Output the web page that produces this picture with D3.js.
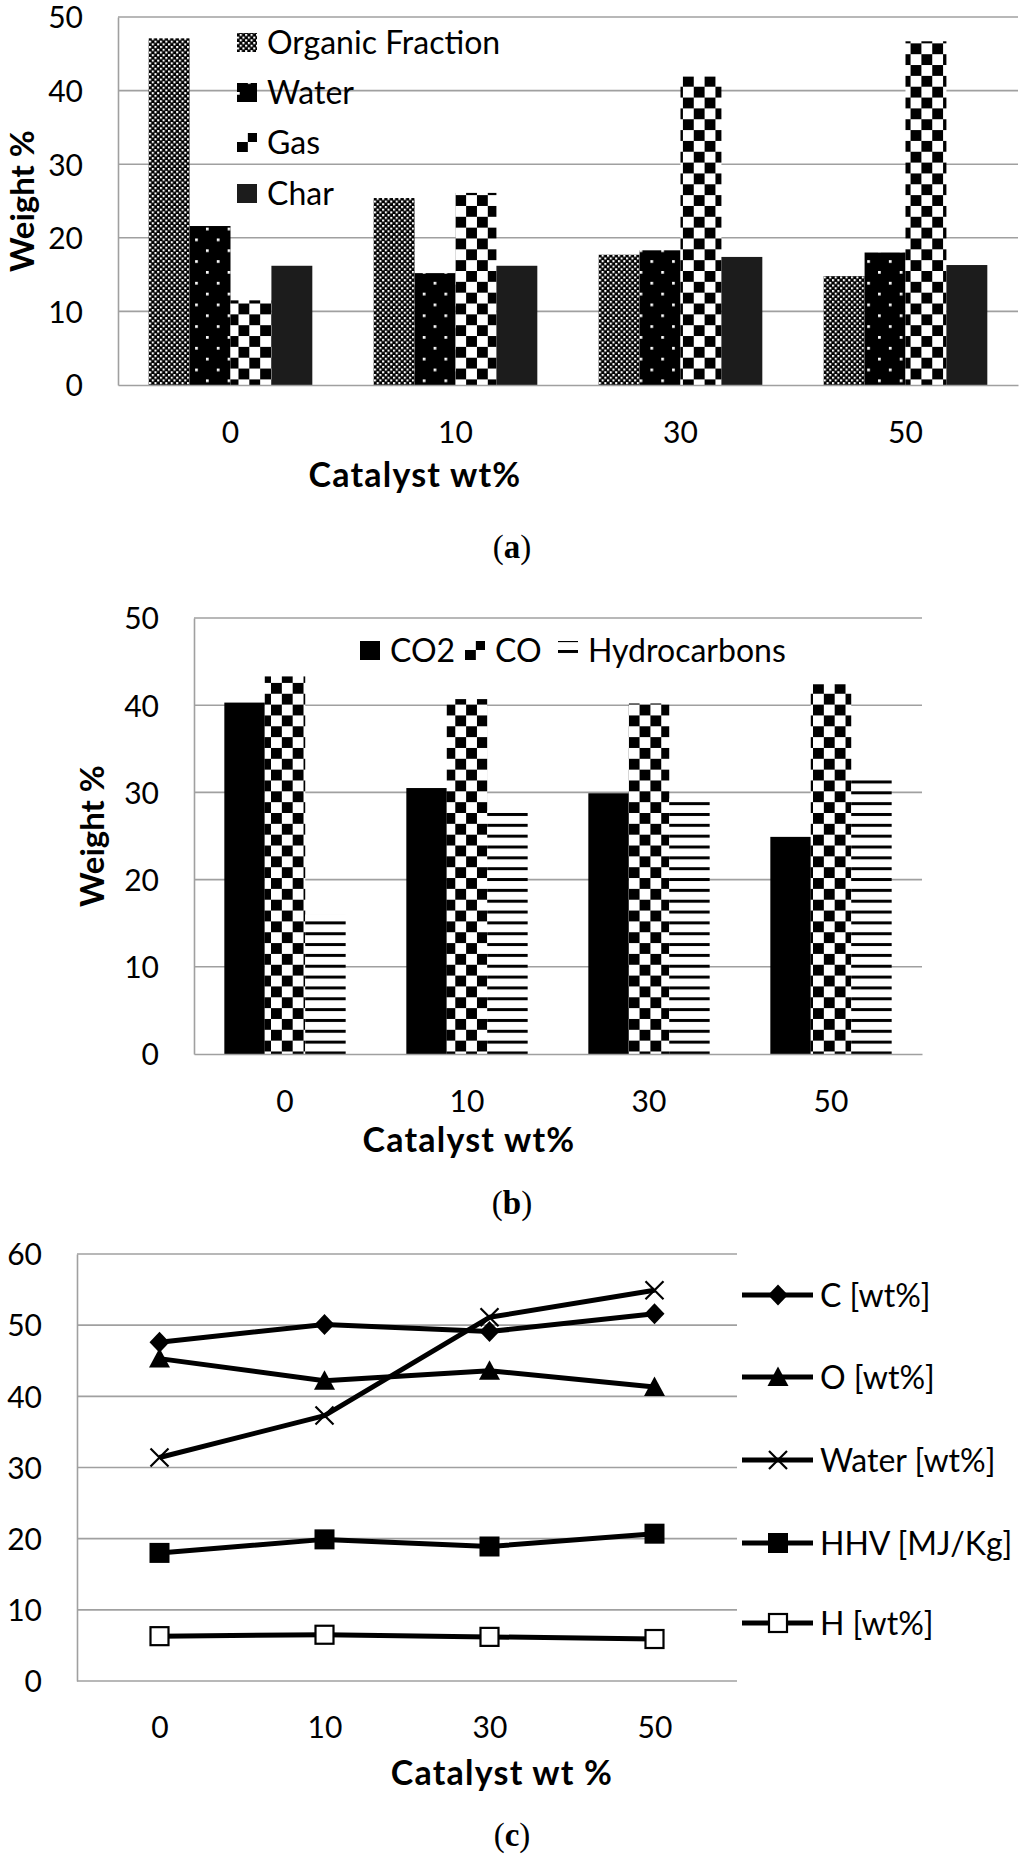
<!DOCTYPE html>
<html>
<head>
<meta charset="utf-8">
<script src="https://cdn.jsdelivr.net/npm/d3@7"></script>
<style>
    body { margin: 0; background: #fff; }
    svg text { font-family: Lato, "Open Sans", sans-serif; fill: #000; }
</style>
</head>
<body>
<div id="fig"></div>
<script>
// ---- data ----
const catalyst = ["0", "10", "30", "50"]

// (a) product yields
const yieldNames = ["Organic Fraction", "Water", "Gas", "Char"]
const organicFraction = [47.1, 25.4, 17.7, 14.8]
const waterYield = [21.6, 15.2, 18.3, 18.0]
const gasYield = [11.5, 26.1, 41.9, 46.7]
const charYield = [16.2, 16.2, 17.4, 16.3]
const yTicksA = [0, 10, 20, 30, 40, 50]

// (b) gas composition
const gasNames = ["CO2", "CO", "Hydrocarbons"]
const co2 = [40.3, 30.5, 29.9, 24.9]
const co = [43.3, 40.7, 40.2, 42.4]
const hydrocarbons = [16.0, 27.9, 29.3, 31.9]
const yTicksB = [0, 10, 20, 30, 40, 50]

// (c) oil properties
const propNames = ["C [wt%]", "O [wt%]", "Water [wt%]", "HHV [MJ/Kg]", "H [wt%]"]
const carbon = [47.6, 50.1, 49.1, 51.6]
const oxygen = [45.3, 42.2, 43.6, 41.3]
const oilWater = [31.4, 37.3, 51.1, 54.9]
const hhv = [18.0, 19.9, 18.9, 20.7]
const hydrogen = [6.3, 6.5, 6.2, 5.9]
const yTicksC = [0, 10, 20, 30, 40, 50, 60]

// ---- page ----
const W = 1024, H = 1855
const gridColor = "#a0a0a0"
const tickSize = 30, legendSize = 32, titleSize = 34
const svg = d3.select("#fig").append("svg")
    .attr("width", W)
    .attr("height", H)

// fill patterns (Excel style hatches)
const defs = svg.append("defs")
function pattern(id, w, h, bg, rects, fg) {
    const p = defs.append("pattern")
        .attr("id", id)
        .attr("patternUnits", "userSpaceOnUse")
        .attr("width", w)
        .attr("height", h)
    p.append("rect").attr("width", w).attr("height", h).attr("fill", bg)
    for (const r of rects) {
        p.append("rect")
            .attr("x", r[0]).attr("y", r[1])
            .attr("width", r[2]).attr("height", r[3])
            .attr("fill", fg)
    }
}
const u = 2.71 // one Excel pattern pixel
pattern("fine", 2 * u, 2 * u, "#000", [[0, 0, 2.1, 2.1], [u, u, 2.1, 2.1]], "#fff")
pattern("dots", 8 * u, 8 * u, "#000", [[0, 0, u, u], [4 * u, 4 * u, u, u]], "#fff")
pattern("checker", 8 * u, 8 * u, "#fff", [[0, 0, 4 * u, 4 * u], [4 * u, 4 * u, 4 * u, 4 * u]], "#000")
pattern("hlines", 8 * u, 4 * u, "#fff", [[0, 0, 8 * u, 1.1 * u]], "#000")

function textStyle(sel, size, weight) {
    return sel.style("font-size", size + "px").style("font-weight", weight || "normal")
}

/**
 * Clustered bar chart panel
 */
function barPanel(opt) {
    const g = svg.append("g")
    const x0 = d3.scaleBand()
        .domain(catalyst)
        .range([opt.left, opt.right])
        .paddingInner(1.5 / (opt.series.length + 1.5))
        .paddingOuter(0.75 / (opt.series.length + 1.5))
    const x1 = d3.scaleBand()
        .domain(opt.series.map(s => s.name))
        .range([0, x0.bandwidth()])
    const y = d3.scaleLinear()
        .domain([0, d3.max(opt.ticks)])
        .range([opt.bottom, opt.top])

    // gridlines
    g.append("g")
        .selectAll("line")
        .data(opt.ticks.filter(t => t > 0))
        .join("line")
        .attr("x1", opt.left).attr("x2", opt.right)
        .attr("y1", d => y(d)).attr("y2", d => y(d))
        .attr("stroke", gridColor)
        .attr("stroke-width", 1.6)

    // bars
    opt.series.forEach(s => {
        g.append("g")
            .selectAll("rect")
            .data(s.values)
            .join("rect")
            .attr("x", (d, i) => x0(catalyst[i]) + x1(s.name))
            .attr("width", x1.bandwidth())
            .attr("y", d => y(d))
            .attr("height", d => y(0) - y(d))
            .attr("fill", s.fill)
    })

    // axes
    const yAxis = g.append("g")
        .attr("transform", `translate(${opt.left},0)`)
        .call(d3.axisLeft(y).tickValues(opt.ticks).tickSize(0).tickPadding(35))
    yAxis.select(".domain").attr("stroke", gridColor).attr("stroke-width", 1.6)
    textStyle(yAxis.selectAll("text"), tickSize).attr("dy", "0.36em")

    const xAxis = g.append("g")
        .attr("transform", `translate(0,${opt.bottom})`)
        .call(d3.axisBottom(x0).tickSize(0).tickPadding(0))
    xAxis.select(".domain").attr("stroke", gridColor).attr("stroke-width", 1.6)
    textStyle(xAxis.selectAll("text"), tickSize).attr("y", 47).attr("dy", "0.36em")
    xAxis.attr("font-family", null)
    yAxis.attr("font-family", null)

    // titles
    textStyle(g.append("text"), titleSize, "bold")
        .attr("x", opt.xTitle[0]).attr("y", opt.xTitle[1])
        .attr("text-anchor", "middle").attr("dy", "0.36em")
        .style("letter-spacing", "1.2px")
        .text("Catalyst wt%")
    textStyle(g.append("text"), 33, "bold")
        .attr("transform", `translate(${opt.yTitle[0]},${opt.yTitle[1]}) rotate(-90)`)
        .attr("text-anchor", "middle").attr("dy", "0.36em")
        .text("Weight %")

    // legend
    const leg = g.append("g")
        .selectAll("g")
        .data(opt.series)
        .join("g")
        .attr("transform", (d, i) => `translate(${opt.legend[i][0]},${opt.legend[i][1]})`)
    leg.append("rect")
        .attr("x", 0).attr("y", -9)
        .attr("width", 20).attr("height", 19)
        .attr("fill", d => d.fill)
    textStyle(leg.append("text"), legendSize)
        .attr("x", 30).attr("dy", "0.36em")
        .text(d => d.name)
}

/**
 * Line chart with markers
 */
function linePanel(opt) {
    const g = svg.append("g")
    const x = d3.scalePoint()
        .domain(catalyst)
        .range([opt.left, opt.right])
        .padding(0.5)
    const y = d3.scaleLinear()
        .domain([0, d3.max(opt.ticks)])
        .range([opt.bottom, opt.top])

    g.append("g")
        .selectAll("line")
        .data(opt.ticks.filter(t => t > 0))
        .join("line")
        .attr("x1", opt.left).attr("x2", opt.right)
        .attr("y1", d => y(d)).attr("y2", d => y(d))
        .attr("stroke", gridColor)
        .attr("stroke-width", 1.6)

    const yAxis = g.append("g")
        .attr("transform", `translate(${opt.left},0)`)
        .call(d3.axisLeft(y).tickValues(opt.ticks).tickSize(0).tickPadding(35))
    yAxis.select(".domain").attr("stroke", gridColor).attr("stroke-width", 1.6)
    textStyle(yAxis.selectAll("text"), tickSize).attr("dy", "0.36em")

    const xAxis = g.append("g")
        .attr("transform", `translate(0,${opt.bottom})`)
        .call(d3.axisBottom(x).tickSize(0).tickPadding(0))
    xAxis.select(".domain").attr("stroke", gridColor).attr("stroke-width", 1.6)
        .attr("d", `M${opt.left},0H${opt.right}`)
    textStyle(xAxis.selectAll("text"), tickSize).attr("y", 46).attr("dy", "0.36em")
    xAxis.attr("font-family", null)
    yAxis.attr("font-family", null)

    textStyle(g.append("text"), titleSize, "bold")
        .attr("x", opt.xTitle[0]).attr("y", opt.xTitle[1])
        .attr("text-anchor", "middle").attr("dy", "0.36em")
        .style("letter-spacing", "1.2px")
        .text("Catalyst wt %")

    const line = d3.line()
        .x((d, i) => x(catalyst[i]))
        .y(d => y(d))

    opt.series.forEach(s => {
        g.append("path")
            .attr("d", line(s.values))
            .attr("fill", "none")
            .attr("stroke", "#000")
            .attr("stroke-width", 5)
            .attr("stroke-linejoin", "round")
        s.values.forEach((v, i) => marker(g, s.marker, x(catalyst[i]), y(v)))
    })

    // legend on the right
    opt.series.forEach((s, i) => {
        const ly = opt.legendY[i]
        g.append("line")
            .attr("x1", opt.legendX).attr("x2", opt.legendX + 71)
            .attr("y1", ly).attr("y2", ly)
            .attr("stroke", "#000")
            .attr("stroke-width", 5)
        marker(g, s.marker, opt.legendX + 36, ly)
        textStyle(g.append("text"), legendSize)
            .attr("x", opt.legendX + 78).attr("y", ly)
            .attr("dy", "0.36em")
            .text(s.name)
    })
}

function marker(g, type, cx, cy) {
    const m = g.append("g").attr("transform", `translate(${cx},${cy})`)
    if (type === "diamond") {
        m.append("path").attr("d", "M0,-10.5L10,0L0,10.5L-10,0Z").attr("fill", "#000")
    } else if (type === "triangle") {
        m.append("path").attr("d", "M0,-10.5L10.5,9L-10.5,9Z").attr("fill", "#000")
    } else if (type === "cross") {
        m.append("path").attr("d", "M-9,-9L9,9M-9,9L9,-9")
            .attr("stroke", "#000").attr("stroke-width", 2.2).attr("fill", "none")
    } else if (type === "square") {
        m.append("rect").attr("x", -10).attr("y", -10).attr("width", 20).attr("height", 20).attr("fill", "#000")
    } else if (type === "open") {
        m.append("rect").attr("x", -9).attr("y", -9).attr("width", 18).attr("height", 18)
            .attr("fill", "#fff").attr("stroke", "#000").attr("stroke-width", 2.2)
    }
}

// ---- (a) ----
barPanel({
    left: 118, right: 1018, top: 17, bottom: 385,
    ticks: yTicksA,
    series: [
        { name: yieldNames[0], values: organicFraction, fill: "url(#fine)" },
        { name: yieldNames[1], values: waterYield, fill: "url(#dots)" },
        { name: yieldNames[2], values: gasYield, fill: "url(#checker)" },
        { name: yieldNames[3], values: charYield, fill: "#1c1c1c" },
    ],
    legend: [[237, 42], [237, 92], [237, 142], [237, 193]],
    xTitle: [415, 475],
    yTitle: [22, 201],
})

// ---- (b) ----
barPanel({
    left: 194, right: 922, top: 618, bottom: 1054,
    ticks: yTicksB,
    series: [
        { name: gasNames[0], values: co2, fill: "#000" },
        { name: gasNames[1], values: co, fill: "url(#checker)" },
        { name: gasNames[2], values: hydrocarbons, fill: "url(#hlines)" },
    ],
    legend: [[360, 650], [465, 650], [558, 650]],
    xTitle: [469, 1140],
    yTitle: [92, 836],
})

// ---- (c) ----
linePanel({
    left: 77, right: 737, top: 1254, bottom: 1681,
    ticks: yTicksC,
    series: [
        { name: propNames[0], values: carbon, marker: "diamond" },
        { name: propNames[1], values: oxygen, marker: "triangle" },
        { name: propNames[2], values: oilWater, marker: "cross" },
        { name: propNames[3], values: hhv, marker: "square" },
        { name: propNames[4], values: hydrogen, marker: "open" },
    ],
    legendX: 742,
    legendY: [1295, 1377, 1460, 1543, 1623],
    xTitle: [502, 1773],
})

// panel captions
const captions = [["a", 547], ["b", 1203], ["c", 1835]]
for (const [letter, cy] of captions) {
    const t = svg.append("text")
        .attr("x", 512).attr("y", cy)
        .attr("text-anchor", "middle").attr("dy", "0.33em")
        .style("font-family", "'Liberation Serif', 'DejaVu Serif', serif")
        .style("font-size", "33px")
    t.append("tspan").text("(")
    t.append("tspan").style("font-weight", "bold").text(letter)
    t.append("tspan").text(")")
}
</script>
</body>
</html>
